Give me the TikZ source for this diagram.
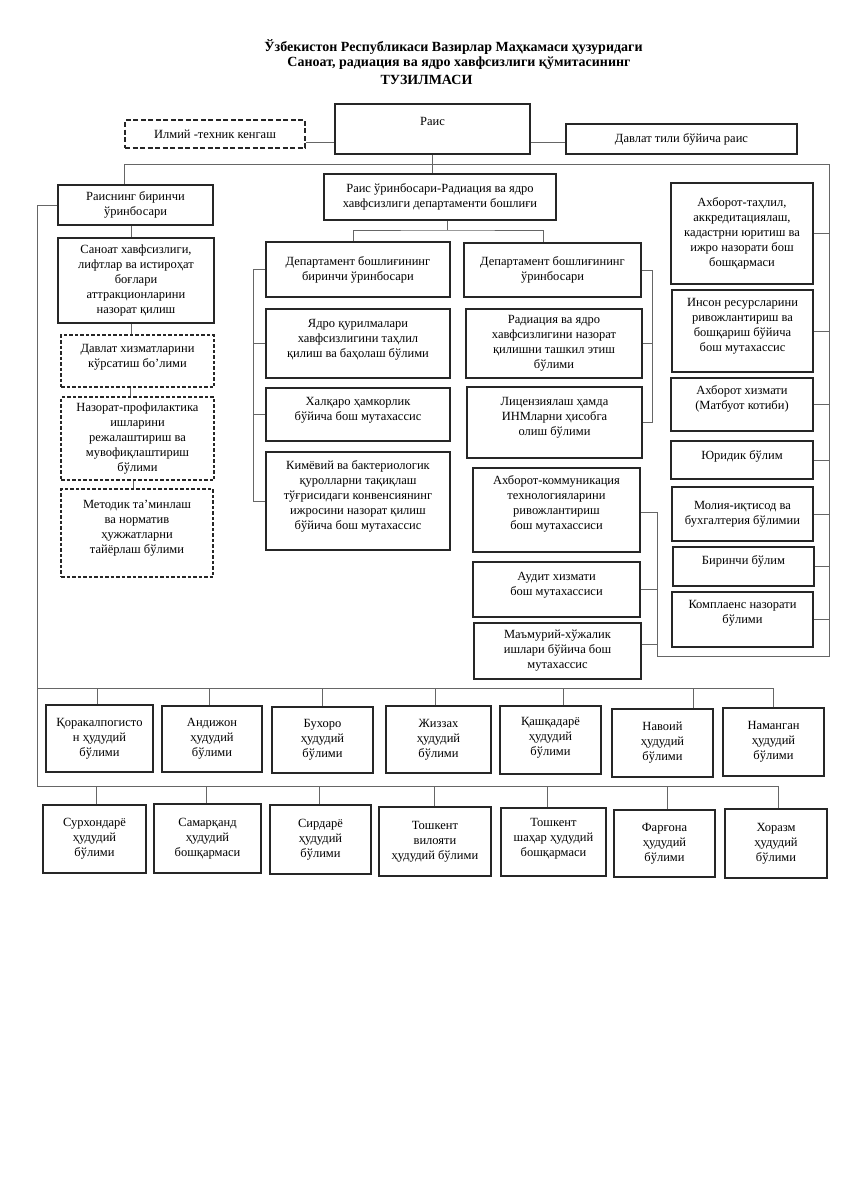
\documentclass[tikz,border=0pt]{standalone}
\usepackage{fontspec}
\setmainfont{Liberation Serif}
\newcommand\pad[1]{\rule[-#1pt]{0pt}{0pt}}

\begin{document}
\begin{tikzpicture}[x=1pt,y=-1pt,
  box/.style={draw=black!85,line width=1.3pt,align=center,inner sep=1pt,
    font=\fontsize{12.5}{15}\selectfont},
  dbox/.style={box,line width=1.1pt,dash pattern=on 3.5pt off 2pt},
  sz/.style 2 args={minimum width=#1pt,minimum height=#2pt},
  link/.style={draw=black!60,line width=0.9pt},
  ttl/.style={font=\bfseries\fontsize{14}{16}\selectfont}]
  \useasboundingbox (0,0) rectangle (848,1200);

  \node[ttl] (t1) at (453.5,47) {Ўзбекистон Республикаси Вазирлар Маҳкамаси ҳузуридаги};
  \node[ttl] (t2) at (459,63) {Саноат, радиация ва ядро хавфсизлиги қўмитасининг};
  \node[ttl] (t3) at (426.5,80) {ТУЗИЛМАСИ};

  \node[box,sz={180}{28},line width=1.8pt,dash pattern=on 5pt off 2.5pt] (ilm) at (215,134) {Илмий -техник кенгаш};
  \node[box,sz={195}{50}] (rais) at (432.5,129) {Раис\pad{15}};
  \node[box,sz={231}{30}] (davl) at (681.5,139) {Давлат тили бўйича раис};

  \node[box,sz={155}{40}] (r1) at (135.5,205) {Раиснинг биринчи\\ўринбосари};
  \node[box,sz={156}{85}] (san) at (136,280.5) {Саноат хавфсизлиги,\\лифтлар ва истироҳат\\боғлари\\аттракционларини\\назорат қилиш};
  \node[dbox,sz={153}{52}] (dx) at (137.5,361) {Давлат хизматларини\\кўрсатиш бо’лими\pad{11}};
  \node[dbox,sz={153}{83}] (np) at (137.5,438.5) {Назорат-профилактика\\ишларини\\режалаштириш ва\\мувофиқлаштириш\\бўлими};
  \node[dbox,sz={152}{88}] (met) at (137,533) {Методик та’минлаш\\ва норматив\\ҳужжатларни\\тайёрлаш бўлими\pad{12}};

  \node[box,sz={232}{46}] (dep) at (440,197) {Раис ўринбосари-Радиация ва ядро\\хавфсизлиги департаменти бошлиғи};
  \node[box,sz={184}{55}] (d1) at (358,269.5) {Департамент бошлиғининг\\биринчи ўринбосари};
  \node[box,sz={184}{69}] (yad) at (358,343.5) {Ядро қурилмалари\\хавфсизлигини таҳлил\\қилиш ва баҳолаш бўлими\pad{11}};
  \node[box,sz={184}{53}] (hal) at (358,414.5) {Халқаро ҳамкорлик\\бўйича бош мутахассис\pad{12}};
  \node[box,sz={184}{98}] (kim) at (358,501) {Кимёвий ва бактериологик\\қуролларни тақиқлаш\\тўғрисидаги конвенсиянинг\\ижросини назорат қилиш\\бўйича бош мутахассис\pad{12}};

  \node[box,sz={177}{54}] (d2) at (552.5,270) {Департамент бошлиғининг\\ўринбосари};
  \node[box,sz={176}{69}] (rad) at (554,343.5) {Радиация ва ядро\\хавфсизлигини назорат\\қилишни ташкил этиш\\бўлими};
  \node[box,sz={175}{71}] (lic) at (554.5,422.5) {Лицензиялаш ҳамда\\ИНМларни ҳисобга\\олиш бўлими\pad{12}};
  \node[box,sz={167}{84}] (akt) at (556.5,510) {Ахборот-коммуникация\\технологияларини\\ривожлантириш\\бош мутахассиси\pad{14}};
  \node[box,sz={167}{55}] (aud) at (556.5,589.5) {Аудит хизмати\\бош мутахассиси\pad{12}};
  \node[box,sz={167}{56}] (mam) at (557.5,651) {Маъмурий-хўжалик\\ишлари бўйича бош\\мутахассис};

  \node[box,sz={142}{101}] (aht) at (742,233.5) {Ахборот-таҳлил,\\аккредитациялаш,\\кадастрни юритиш ва\\ижро назорати бош\\бошқармаси};
  \node[box,sz={141}{82}] (ins) at (742.5,331) {Инсон ресурсларини\\ривожлантириш ва\\бошқариш бўйича\\бош мутахассис\pad{12}};
  \node[box,sz={142}{53}] (ax) at (742,404.5) {Ахборот хизмати\\(Матбуот котиби)\pad{13}};
  \node[box,sz={142}{38}] (yur) at (742,460) {Юридик бўлим\pad{10}};
  \node[box,sz={141}{54}] (mol) at (742.5,514) {Молия-иқтисод ва\\бухгалтерия бўлимии};
  \node[box,sz={141}{39}] (bir) at (743.5,566.5) {Биринчи бўлим\pad{12}};
  \node[box,sz={141}{55}] (kom) at (742.5,619.5) {Комплаенс назорати\\бўлими\pad{16}};

  \node[box,sz={107}{67}] (q1) at (99.5,738.5) {Қоракалпогисто\\н ҳудудий\\бўлими};
  \node[box,sz={100}{66}] (q2) at (212,739) {Андижон\\ҳудудий\\бўлими};
  \node[box,sz={101}{66}] (q3) at (322.5,740) {Бухоро\\ҳудудий\\бўлими};
  \node[box,sz={105}{67}] (q4) at (438.5,739.5) {Жиззах\\ҳудудий\\бўлими};
  \node[box,sz={101}{68}] (q5) at (550.5,740) {Қашқадарё\\ҳудудий\\бўлими\pad{8}};
  \node[box,sz={101}{68}] (q6) at (662.5,743) {Навоий\\ҳудудий\\бўлими};
  \node[box,sz={101}{68}] (q7) at (773.5,742) {Наманган\\ҳудудий\\бўлими};

  \node[box,sz={103}{68}] (s1) at (94.5,839) {Сурхондарё\\ҳудудий\\бўлими};
  \node[box,sz={107}{69}] (s2) at (207.5,838.5) {Самарқанд\\ҳудудий\\бошқармаси};
  \node[box,sz={101}{69}] (s3) at (320.5,839.5) {Сирдарё\\ҳудудий\\бўлими};
  \node[box,sz={112}{69}] (s4) at (435,841.5) {Тошкент\\вилояти\\ҳудудий бўлими};
  \node[box,sz={105}{68}] (s5) at (553.5,842) {Тошкент\\шаҳар ҳудудий\\бошқармаси\pad{10}};
  \node[box,sz={101}{67}] (s6) at (664.5,843.5) {Фарғона\\ҳудудий\\бўлими};
  \node[box,sz={102}{69}] (s7) at (776,843.5) {Хоразм\\ҳудудий\\бўлими};

  \coordinate (bl) at (124,164);
  \coordinate (br) at (829,164);
  \coordinate (rb) at (829,656);
  \coordinate (mb) at (657,656);
  \coordinate (dm) at (447,230);
  \coordinate (lv) at (253,300);
  \coordinate (rv) at (652,300);
  \coordinate (la) at (37,688);
  \coordinate (lb) at (37,786);

  \draw[link] ([yshift=-8pt]ilm.east) -- ([yshift=-8pt]ilm.east -| rais.west);
  \draw[link] ([yshift=-13pt]rais.east) -- ([yshift=-13pt]rais.east -| davl.west);
  \draw[link] (bl) -- (br) -- (rb) -- (mb) -- ([yshift=-2pt]akt.east -| mb) -- ([yshift=-2pt]akt.east);
  \draw[link] (bl) -- (bl |- r1.north);
  \draw[link] (rais.south) -- (rais.south |- dep.north);
  \foreach \n in {aht,ins,ax,yur,mol,bir,kom}
    \draw[link] (\n.east) -- (\n.east -| br);
  \draw[link] (aud.east) -- (aud.east -| mb);
  \draw[link] ([yshift=7pt]mam.east) -- ([yshift=7pt]mam.east -| mb);

  \draw[link] (dm |- dep.south) -- (dm);
  \draw[link] ([xshift=-5pt]d1.north) |- (dm) -| ([xshift=-9pt]d2.north);
  \draw[link] (d1.west) -- (d1.west -| lv) -- (kim.west -| lv) -- (kim.west);
  \foreach \n in {yad,hal}
    \draw[link] (\n.west) -- (\n.west -| lv);
  \draw[link] (d2.east) -- (d2.east -| rv) -- (lic.east -| rv) -- (lic.east);
  \draw[link] (rad.east) -- (rad.east -| rv);

  \draw[link] ([xshift=-4pt]r1.south) -- ([xshift=-4pt]r1.south |- san.north);
  \draw[link] ([xshift=-5pt]san.south) -- ([xshift=-5pt]san.south |- dx.north);
  \draw[link] ([xshift=-7pt]dx.south) -- ([xshift=-7pt]dx.south |- np.north);
  \draw[link] ([xshift=-4.5pt]np.south) -- ([xshift=-4.5pt]np.south |- met.north);

  \draw[link] (r1.west) -- (r1.west -| lb) -- (lb) -- ([xshift=2pt]s7.north |- lb);
  \draw[link] (la) -- (q7.north |- la);
  \foreach \n/\d in {q1/-2.5,q2/-3,q3/0,q4/-3.5,q5/12.5,q6/30.5,q7/0}
    \draw[link] ([xshift=\d pt]\n.north) -- ([xshift=\d pt]\n.north |- la);
  \foreach \n/\d in {s1/1.5,s2/-1.5,s3/-1.5,s4/-1,s5/-6.5,s6/2.5,s7/2}
    \draw[link] ([xshift=\d pt]\n.north) -- ([xshift=\d pt]\n.north |- lb);
\end{tikzpicture}
\end{document}
